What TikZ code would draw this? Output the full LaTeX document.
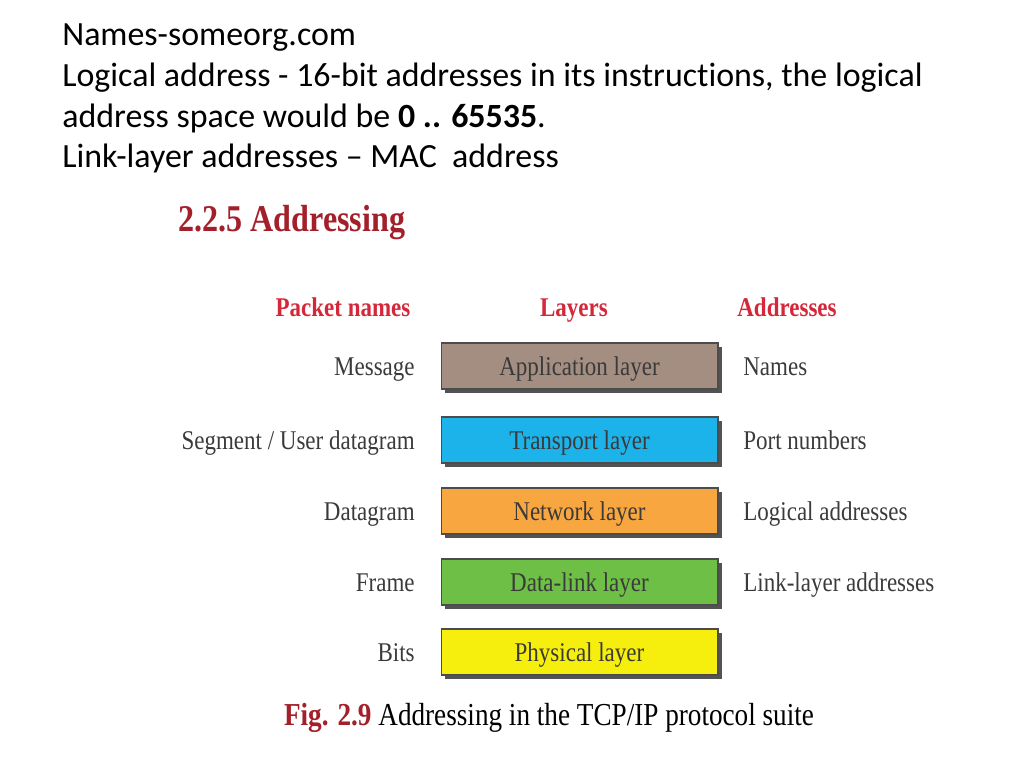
\documentclass[tikz,border=0pt]{standalone}
\usepackage{fontspec}
\setmainfont{Carlito}[Ligatures=NoCommon]
\newfontfamily\figfont[FakeStretch=0.85]{Liberation Serif}
\usetikzlibrary{shadows}
\definecolor{titlered}{HTML}{A31F2A}
\definecolor{headred}{HTML}{D4283A}
\definecolor{figgray}{HTML}{3A3A3A}
\definecolor{appcol}{HTML}{A48E82}
\definecolor{trancol}{HTML}{1CB2EA}
\definecolor{netcol}{HTML}{F8A640}
\definecolor{linkcol}{HTML}{6EBF46}
\definecolor{physcol}{HTML}{F6EE0C}

\begin{document}
\begin{tikzpicture}[x=0.02cm, y=-0.02cm]
	\tikzstyle{slidetext} = [anchor=base west, inner sep=0pt, font=\fontsize{19.3}{23}\selectfont]
	\tikzstyle{figtext} = [inner sep=0pt, text=figgray, font=\figfont\fontsize{15.4}{18}\selectfont]
	\tikzstyle{header} = [anchor=mid, inner sep=0pt, text=headred, font=\figfont\bfseries\fontsize{15.4}{18}\selectfont]
	\tikzstyle{layerbox} = [draw=black!70, line width=0.6pt, minimum width=5.54cm, minimum height=0.92cm,
		inner sep=0pt, text height=12pt, text depth=1.4pt, text=figgray, font=\figfont\fontsize{15.4}{18}\selectfont,
		drop shadow={shadow xshift=0.08cm, shadow yshift=-0.08cm, fill=black!75, opacity=0.9}]
	\useasboundingbox (0,0) rectangle (1024,768);
	% slide text
	\node[slidetext] (line1) at (62,45) {Names-someorg.com};
	\node[slidetext] (line2) at (62,86) {Logical address - 16-bit addresses in its instructions, the logical};
	\node[slidetext] (line3) at (62,127) {address space would be \textbf{0 .. 65535}.};
	\node[slidetext] (line4) at (62,167) {Link-layer addresses -- MAC\ \ address};
	% figure
	\node[anchor=mid west, inner sep=0pt, text=titlered, font=\figfont\bfseries\fontsize{21.5}{24}\selectfont] (title) at (178,227) {2.2.5 Addressing};
	\node[header] (hpacket) at (343,312) {Packet names};
	\node[header] (hlayers) at (574,312) {Layers};
	\node[header] (haddr) at (787,312) {Addresses};
	\node[layerbox, fill=appcol] (app) at (579.5,366) {Application layer};
	\node[layerbox, fill=trancol] (trans) at (579.5,440) {Transport layer};
	\node[layerbox, fill=netcol] (net) at (579.5,511) {Network layer};
	\node[layerbox, fill=linkcol] (link) at (579.5,582) {Data-link layer};
	\node[layerbox, fill=physcol] (phys) at (579.5,652) {Physical layer};
	\node[figtext, anchor=mid east] (message) at (415,371) {Message};
	\node[figtext, anchor=mid east] (segment) at (415,445) {Segment / User datagram};
	\node[figtext, anchor=mid east] (datagram) at (415,516) {Datagram};
	\node[figtext, anchor=mid east] (frame) at (415,587) {Frame};
	\node[figtext, anchor=mid east] (bits) at (415,657) {Bits};
	\node[figtext, anchor=mid west] (names) at (743,371) {Names};
	\node[figtext, anchor=mid west] (ports) at (743,445) {Port numbers};
	\node[figtext, anchor=mid west] (logical) at (743,516) {Logical addresses};
	\node[figtext, anchor=mid west] (linkaddr) at (743,587) {Link-layer addresses};
	\node[figtext, anchor=mid, text=black, font=\figfont\fontsize{18.2}{21}\selectfont] (caption) at (549,721)
		{\textcolor{titlered}{\bfseries Fig. 2.9} Addressing in the TCP/IP protocol suite};
\end{tikzpicture}
\end{document}
